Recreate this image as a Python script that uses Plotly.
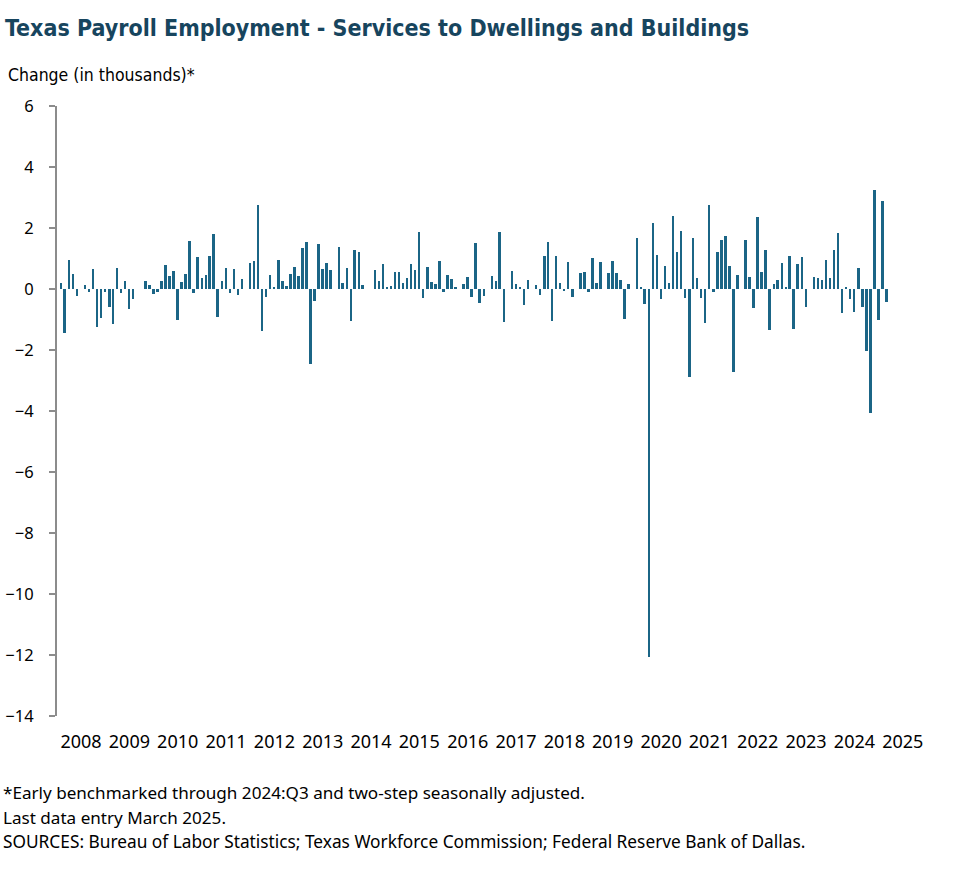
import pandas as pd
import plotly.graph_objects as go

# Monthly change in thousands (Feb 2008 - Mar 2025)
v2008 = [0.20, -1.44, 0.95, 0.49, -0.23, 0.0, 0.13, -0.10, 0.67, -1.25, -0.95]
v2009 = [-0.10, -0.59, -1.15, 0.69, -0.13, 0.27, -0.66, -0.33, 0.0, 0.0, 0.27, 0.13]
v2010 = [-0.15, -0.10, 0.27, 0.79, 0.43, 0.60, -1.02, 0.23, 0.49, 1.58, -0.13, 1.05]
v2011 = [0.36, 0.46, 1.09, 1.81, -0.92, 0.27, 0.69, -0.13, 0.66, -0.20, 0.33, 0.0]
v2012 = [0.85, 0.93, 2.77, -1.38, -0.26, 0.46, 0.07, 0.95, 0.26, 0.10, 0.49, 0.72]
v2013 = [0.43, 1.34, 1.54, -2.45, -0.39, 1.48, 0.66, 0.85, 0.62, 0.0, 1.38, 0.20]
v2014 = [0.69, -1.06, 1.28, 1.21, 0.13, 0.0, 0.0, 0.62, 0.26, 0.82, 0.07, 0.10]
v2015 = [0.56, 0.56, 0.20, 0.36, 0.82, 0.62, 1.87, -0.30, 0.72, 0.23, 0.16, 0.92]
v2016 = [-0.10, 0.46, 0.33, 0.07, 0.0, 0.16, 0.39, -0.26, 1.51, -0.46, -0.23, 0.0]
v2017 = [0.43, 0.26, 1.87, -1.08, 0.0, 0.59, 0.16, 0.07, -0.52, 0.30, 0.0, 0.13]
v2018 = [-0.20, 1.08, 1.54, -1.05, 1.08, 0.20, -0.05, 0.89, -0.26, 0.0, 0.52, 0.56]
v2019 = [-0.10, 1.02, 0.20, 0.89, 0.0, 0.52, 0.92, 0.52, 0.30, -0.98, 0.16, 0.0]
v2020 = [1.67, 0.07, -0.49, -12.05, 2.16, 1.11, -0.33, 0.75, 0.20, 2.39, 1.21, 1.90]
v2021 = [-0.30, -2.90, 1.67, 0.36, -0.30, -1.11, 2.77, -0.10, 1.21, 1.61, 1.74, 0.75]
v2022 = [-2.72, 0.46, 0.0, 1.61, 0.39, -0.62, 2.36, 0.56, 1.28, -1.35, 0.16, 0.30]
v2023 = [0.85, 0.07, 1.08, -1.31, 0.82, 1.05, -0.59, 0.0, 0.39, 0.36, 0.30, 0.95]
v2024 = [0.36, 1.28, 1.84, -0.79, 0.08, -0.33, -0.75, 0.69, -0.59, -2.03, -4.07, 3.25]
v2025 = [-1.02, 2.89, -0.43]

values = (v2008 + v2009 + v2010 + v2011 + v2012 + v2013 + v2014 + v2015 + v2016
          + v2017 + v2018 + v2019 + v2020 + v2021 + v2022 + v2023 + v2024 + v2025)
months = pd.date_range("2008-02-01", periods=len(values), freq="MS")

years = list(range(2008, 2026))
year_labels = [str(y) for y in years]
y_ticks = list(range(-14, 7, 2))

BAR = "#1b6586"
GREY = "#8c8c8c"
FONT = "Noto Sans"
NARROW = "DejaVu Sans Condensed, Roboto, sans-serif"

W, H = 979, 878
L, R, T, B = 57, 56, 106, 162
ph = H - T - B
pw = W - L - R


def px_x(px):
    return (px - L) / pw


def px_y(py):
    return (H - B - py) / ph


fig = go.Figure()
fig.add_trace(go.Bar(
    x=months, y=values, marker=dict(color=BAR, line=dict(width=0)),
    width=15 * 24 * 3600 * 1000, showlegend=False,
))

x_range = ["2008-01-01", "2025-12-01"]
label_pos = [f"{y}-07-01" for y in years]
tick_pos = [f"{y}-01-01" for y in years[1:]]
zero_pos = (0 - y_ticks[0]) / (y_ticks[-1] - y_ticks[0])

fig.update_layout(
    width=W, height=H,
    margin=dict(l=L, r=R, t=T, b=B, autoexpand=False),
    paper_bgcolor="white", plot_bgcolor="white",
    font=dict(family=FONT, color="#000000", size=17),
    bargap=0,
    xaxis=dict(
        type="date", range=x_range, tickvals=label_pos, ticktext=year_labels,
        showline=False, showgrid=False, zeroline=False, ticks="",
        tickfont=dict(size=18, family=FONT), ticklabelstandoff=13,
        automargin=False,
    ),
    xaxis2=dict(
        type="date", overlaying="x", anchor="free", position=zero_pos,
        matches="x", range=x_range, tickvals=tick_pos, showticklabels=False,
        showline=True, linecolor=GREY, linewidth=2, ticks="outside",
        ticklen=7, tickwidth=2, tickcolor=GREY, showgrid=False, zeroline=False,
        automargin=False,
    ),
    yaxis=dict(
        range=[y_ticks[0], y_ticks[-1]], tickvals=y_ticks,
        showline=True, linecolor=GREY, linewidth=2, ticks="outside",
        ticklen=6, tickwidth=2, tickcolor=GREY, showgrid=False, zeroline=False,
        tickfont=dict(size=16.5, family=FONT), ticklabelstandoff=12,
        automargin=False,
    ),
    annotations=[
        dict(text="<b>Texas Payroll Employment - Services to Dwellings and Buildings</b>",
             xref="paper", yref="paper", x=px_x(3), y=px_y(28),
             xanchor="left", yanchor="middle", showarrow=False,
             font=dict(family=NARROW, size=23, color="#17455e")),
        dict(text="Change (in thousands)*", xref="paper", yref="paper",
             x=px_x(6), y=px_y(75), xanchor="left", yanchor="middle",
             showarrow=False, font=dict(family=NARROW, size=17.5)),
        dict(text="*Early benchmarked through 2024:Q3 and two-step seasonally adjusted.",
             xref="paper", yref="paper", x=px_x(1), y=px_y(792),
             xanchor="left", yanchor="middle", showarrow=False, font=dict(size=17.1)),
        dict(text="Last data entry March 2025.",
             xref="paper", yref="paper", x=px_x(1), y=px_y(817),
             xanchor="left", yanchor="middle", showarrow=False, font=dict(size=17.1)),
        dict(text="SOURCES: Bureau of Labor Statistics; Texas Workforce Commission; Federal Reserve Bank of Dallas.",
             xref="paper", yref="paper", x=px_x(1), y=px_y(841),
             xanchor="left", yanchor="middle", showarrow=False, font=dict(size=17.3)),
    ],
)

fig.write_html("out.html", config={"displayModeBar": False},
               post_script="document.body.style.margin='0';")
